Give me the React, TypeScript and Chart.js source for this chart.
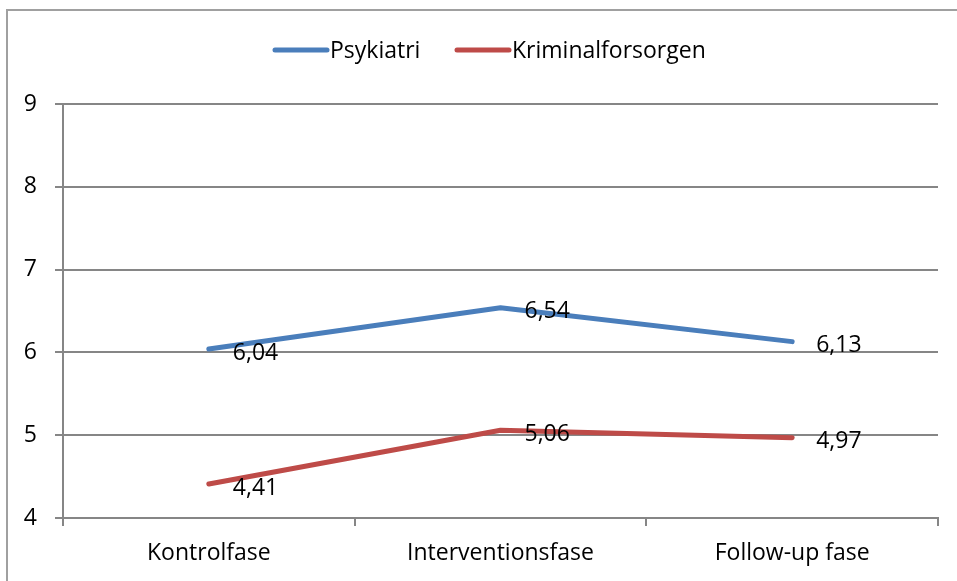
import React, { useEffect, useRef } from "react";
import { Chart, registerables } from "chart.js";

Chart.register(...registerables);

const categories = ["Kontrolfase", "Interventionsfase", "Follow-up fase"];
const psykiatri = [6.04, 6.54, 6.13];
const kriminalforsorgen = [4.41, 5.06, 4.97];
const seriesNames = ["Psykiatri", "Kriminalforsorgen"];
const seriesColors = ["#4a7ebb", "#be4b48"];
const yTicks = [4, 5, 6, 7, 8, 9];

const FONT = "'Open Sans', sans-serif";
const FONT_SIZE = 23;

const framePlugin = {
  id: "frame",
  beforeDraw(chart: any) {
    const ctx = chart.ctx;
    ctx.save();
    ctx.fillStyle = "#ffffff";
    ctx.fillRect(0, 0, chart.width, chart.height);
    ctx.strokeStyle = "#a0a0a0";
    ctx.lineWidth = 2;
    ctx.strokeRect(7, 10, chart.width + 20, chart.height + 20);
    ctx.restore();
  },
  afterDraw(chart: any) {
    const ctx = chart.ctx;
    ctx.save();
    // legend
    ctx.font = `${FONT_SIZE}px ${FONT}`;
    ctx.textBaseline = "middle";
    ctx.lineCap = "round";
    const legendY = 50;
    const starts = [275, 457];
    chart.data.datasets.forEach((ds: any, i: number) => {
      ctx.strokeStyle = ds.borderColor;
      ctx.lineWidth = 5;
      ctx.beginPath();
      ctx.moveTo(starts[i], legendY);
      ctx.lineTo(starts[i] + 52, legendY);
      ctx.stroke();
      ctx.fillStyle = "#000";
      ctx.textAlign = "left";
      ctx.fillText(ds.label, starts[i] + 55, legendY + 1);
    });
    // data labels
    chart.data.datasets.forEach((ds: any, i: number) => {
      const meta = chart.getDatasetMeta(i);
      meta.data.forEach((pt: any, j: number) => {
        const v = ds.data[j];
        const txt = v.toFixed(2).replace(".", ",");
        ctx.fillStyle = "#000";
        ctx.textAlign = "left";
        ctx.fillText(txt, pt.x + 24, pt.y + 4);
      });
    });
    ctx.restore();
  },
};

export default function App() {
  const ref = useRef<HTMLCanvasElement | null>(null);
  useEffect(() => {
    document.body.style.margin = "0";
    const canvas = ref.current!;
    const chart = new Chart(canvas, {
      type: "line",
      data: {
        labels: categories,
        datasets: [
          {
            label: seriesNames[0],
            data: psykiatri,
            borderColor: seriesColors[0],
            backgroundColor: seriesColors[0],
            borderWidth: 5,
            pointRadius: 0,
            tension: 0,
            borderCapStyle: "round",
            borderJoinStyle: "round",
          },
          {
            label: seriesNames[1],
            data: kriminalforsorgen,
            borderColor: seriesColors[1],
            backgroundColor: seriesColors[1],
            borderWidth: 5,
            pointRadius: 0,
            tension: 0,
            borderCapStyle: "round",
            borderJoinStyle: "round",
          },
        ],
      },
      options: {
        animation: false,
        responsive: false,
        devicePixelRatio: 1,
        layout: { padding: { left: 0, right: 19, top: 104, bottom: 0 } },
        plugins: {
          legend: { display: false },
          tooltip: { enabled: false },
        },
        scales: {
          x: {
            offset: true,
            grid: {
              offset: true,
              drawOnChartArea: false,
              drawTicks: true,
              tickLength: 8,
              color: "#868686",
              lineWidth: 2,
            },
            border: { color: "#868686", width: 2 },
            ticks: {
              color: "#000",
              font: { family: FONT, size: FONT_SIZE },
              padding: 14,
              maxRotation: 0,
            },
            afterFit(scale: any) {
              scale.height = 63;
            },
          },
          y: {
            min: 4,
            max: 9,
            afterBuildTicks(scale: any) {
              scale.ticks = yTicks.map((v) => ({ value: v }));
            },
            grid: {
              color: "#868686",
              lineWidth: 2,
              tickLength: 8,
            },
            border: { color: "#868686", width: 2 },
            ticks: {
              color: "#000",
              font: { family: FONT, size: FONT_SIZE },
              padding: 18,
            },
            afterFit(scale: any) {
              scale.width = 63;
            },
          },
        },
      },
      plugins: [framePlugin],
    });
    return () => chart.destroy();
  }, []);
  return (
    <canvas
      ref={ref}
      width={957}
      height={581}
      style={{ position: "fixed", left: 0, top: 0, width: 957, height: 581 }}
    />
  );
}
